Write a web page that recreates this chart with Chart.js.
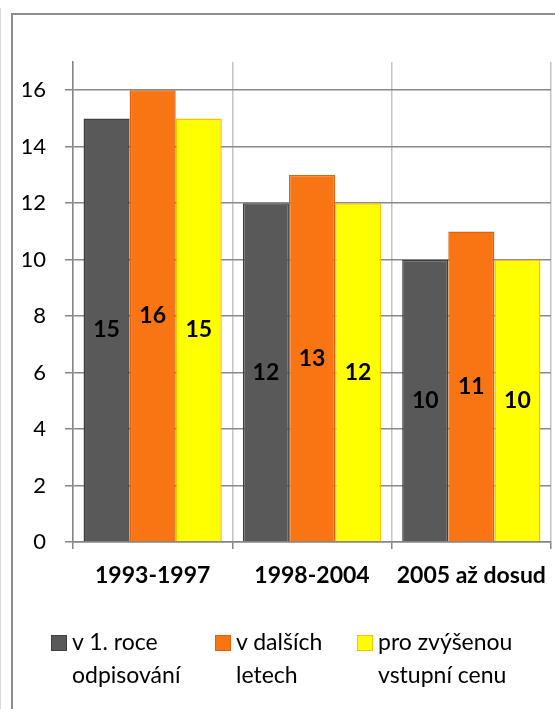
<!DOCTYPE html>
<html>
<head>
<meta charset="utf-8">
<script src="https://cdn.jsdelivr.net/npm/chart.js@4.4.1/dist/chart.umd.min.js"></script>
<style>
  html, body { margin: 0; padding: 0; background: #fff; }
  #wrap { position: relative; width: 555px; height: 709px; overflow: hidden; }
  #frame { position: absolute; left: 11px; top: 13px; width: 600px; height: 800px; border: 2px solid #8e8e8e; box-sizing: border-box; }
  #edge { position: absolute; left: 0; top: 8px; width: 1px; height: 720px; background: #d9d9d9; }
  canvas { position: absolute; left: 0; top: 0; }
  #legend { position: absolute; left: 0; top: 625px; width: 555px; font: 23px Lato, "Open Sans", sans-serif; color: #000; }
  .item { position: absolute; top: 0; line-height: 33px; white-space: nowrap; }
  .box { position: absolute; left: 0; top: 10px; width: 16px; height: 16px; box-sizing: border-box; border: 1.5px solid; }
  .txt { position: absolute; left: 21px; top: 0; }
</style>
</head>
<body>
<div id="wrap">
  <div id="edge"></div>
  <div id="frame"></div>
  <canvas id="barChart" width="555" height="709"></canvas>
  <div id="legend"></div>
</div>
<script>
const categories = ['1993-1997', '1998-2004', '2005 až dosud'];
const prvniRok = [15, 12, 10];
const dalsiLeta = [16, 13, 11];
const zvysenaCena = [15, 12, 10];
const seriesNames = [
  ['v 1. roce', 'odpisování'],
  ['v dalších', 'letech'],
  ['pro zvýšenou', 'vstupní cenu']
];
const yTicks = [0, 2, 4, 6, 8, 10, 12, 14, 16];

const FONT = 'Lato, "Open Sans", sans-serif';

// values written in the middle of each bar
const barValues = {
  id: 'barValues',
  afterDatasetsDraw(chart) {
    const ctx = chart.ctx;
    ctx.save();
    ctx.font = 'bold 23px ' + FONT;
    ctx.fillStyle = '#000';
    ctx.textAlign = 'center';
    ctx.textBaseline = 'middle';
    chart.data.datasets.forEach((ds, i) => {
      chart.getDatasetMeta(i).data.forEach((bar, j) => {
        const p = bar.getProps(['x', 'y', 'base'], true);
        ctx.fillText(ds.data[j], p.x, (p.y + p.base) / 2);
      });
    });
    ctx.restore();
  }
};

const ctx = document.getElementById('barChart');

const chart = new Chart(ctx, {
  type: 'bar',
  data: {
    labels: categories,
    datasets: [
      { label: seriesNames[0].join(' '), data: prvniRok, backgroundColor: '#595959', borderColor: '#404040', borderWidth: 1.5 },
      { label: seriesNames[1].join(' '), data: dalsiLeta, backgroundColor: '#F97412', borderColor: '#DC620C', borderWidth: 1.5 },
      { label: seriesNames[2].join(' '), data: zvysenaCena, backgroundColor: '#FFFF00', borderColor: '#FFC000', borderWidth: 1.5 }
    ]
  },
  plugins: [barValues],
  options: {
    responsive: false,
    animation: false,
    layout: { padding: { left: 23, right: 4, top: 62, bottom: 105 } },
    datasets: {
      bar: { barPercentage: 1, categoryPercentage: 0.868 }
    },
    plugins: {
      tooltip: { enabled: false },
      legend: { display: false }
    },
    scales: {
      x: {
        afterFit(scale) {
          scale.height = 62;
          scale.paddingLeft = 0;
          scale.paddingRight = 0;
        },
        grid: { color: '#c4c4c4', tickColor: '#868686', tickLength: 7, lineWidth: 1.5 },
        border: { color: '#868686', width: 1.5 },
        ticks: { color: '#000', font: { family: FONT, size: 23, weight: 'bold' }, padding: 13 }
      },
      y: {
        min: 0,
        max: 17,
        afterFit(scale) { scale.width = 50; },
        afterBuildTicks(scale) {
          scale.ticks = [];
          for (let v = 0; v <= 17; v++) scale.ticks.push({ value: v });
        },
        grid: {
          color: c => (c.tick && c.tick.value % 2 === 0 ? '#8a8a8a' : '#c4c4c4'),
          tickColor: c => (c.tick && c.tick.value % 2 === 0 ? '#868686' : 'rgba(0,0,0,0)'),
          tickLength: 8,
          lineWidth: 1.5
        },
        border: { color: '#868686', width: 1.5 },
        ticks: {
          color: '#000',
          font: { family: FONT, size: 22 },
          padding: 19,
          callback: v => (yTicks.includes(v) ? String(v) : '')
        }
      }
    }
  }
});

// legend below the chart, two lines per series
const legendX = [51, 215, 357];
const legend = document.getElementById('legend');
chart.data.datasets.forEach((ds, i) => {
  const item = document.createElement('div');
  item.className = 'item';
  item.style.left = legendX[i] + 'px';
  const box = document.createElement('div');
  box.className = 'box';
  box.style.background = ds.backgroundColor;
  box.style.borderColor = ds.borderColor;
  const txt = document.createElement('div');
  txt.className = 'txt';
  txt.innerHTML = seriesNames[i].join('<br>');
  item.appendChild(box);
  item.appendChild(txt);
  legend.appendChild(item);
});
</script>
</body>
</html>
